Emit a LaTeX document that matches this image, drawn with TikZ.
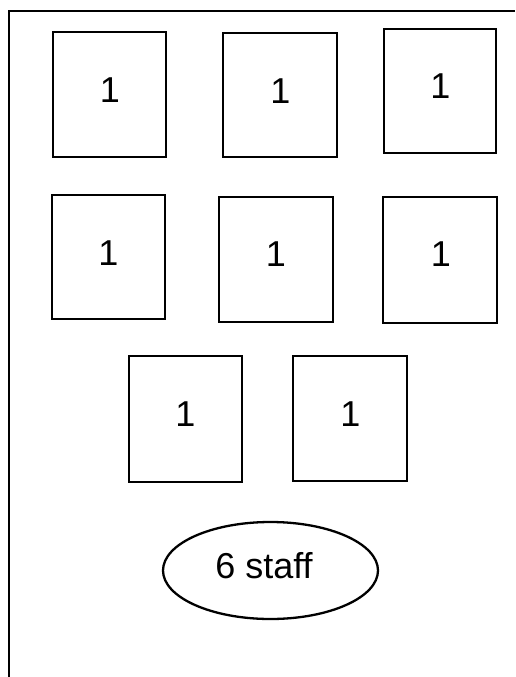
\documentclass[tikz,border=0pt]{standalone}
\usepackage{fontspec}
\setmainfont{Liberation Sans}
\usetikzlibrary{shapes.geometric}
\begin{document}
\begin{tikzpicture}[x=1pt,y=-1pt,
  desk/.style={draw=black,line width=2.5pt,rectangle,inner sep=0pt,outer sep=0pt},
  num/.style={anchor=base,inner sep=0pt,font=\fontsize{36}{40}\selectfont},
  pool/.style={draw=black,line width=2.3pt,ellipse,inner sep=0pt,outer sep=0pt,
    minimum width=215pt,minimum height=97pt}]
  \fill[white] (0,0) rectangle (515,677);
  \useasboundingbox (0,0) rectangle (515,677);

  % room outline: top wall and left wall
  \coordinate (wl) at (9,677);
  \coordinate (wc) at (9,11);
  \coordinate (wr) at (515,11);
  \draw[line width=2.5pt] (wl) -- (wc) -- (wr);

  % first row of desks
  \node[desk,minimum width=113pt,minimum height=125pt] (d1) at (109.5,94.5) {};
  \node[desk,minimum width=114pt,minimum height=124pt] (d2) at (280,95) {};
  \node[desk,minimum width=112pt,minimum height=124pt] (d3) at (440,91) {};
  \node[num] (n1) at (110,102.7) {1};
  \node[num] (n2) at (280.5,103.3) {1};
  \node[num] (n3) at (440.5,98.3) {1};

  % second row of desks
  \node[desk,minimum width=113pt,minimum height=124pt] (d4) at (108.5,257) {};
  \node[desk,minimum width=114pt,minimum height=125pt] (d5) at (276,259.5) {};
  \node[desk,minimum width=114pt,minimum height=126pt] (d6) at (440,260) {};
  \node[num] (n4) at (108.5,265) {1};
  \node[num] (n5) at (276,266.7) {1};
  \node[num] (n6) at (441,266) {1};

  % third row of desks
  \node[desk,minimum width=113pt,minimum height=126pt] (d7) at (185.5,419) {};
  \node[desk,minimum width=114pt,minimum height=125pt] (d8) at (350,418.5) {};
  \node[num] (n7) at (185.5,426.7) {1};
  \node[num] (n8) at (350.5,426) {1};

  % staff
  \node[pool] (staff) at (270.5,570.5) {};
  \node[num] (st) at (264,578) {6 staff};
\end{tikzpicture}
\end{document}
